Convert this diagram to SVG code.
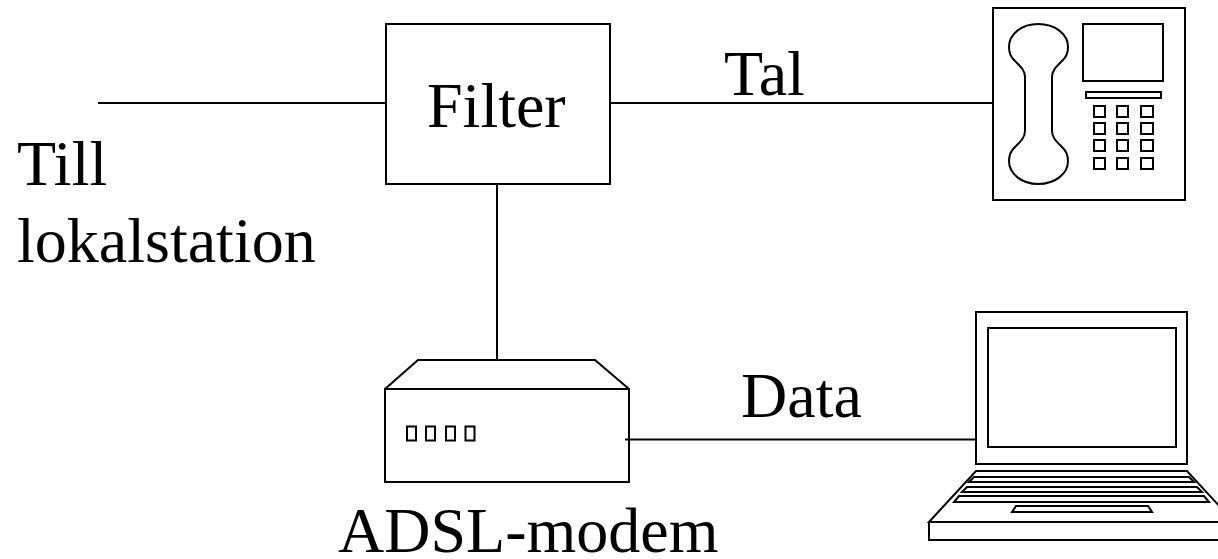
<svg xmlns="http://www.w3.org/2000/svg" width="1218" height="559" viewBox="0 0 1218 559">
<style>
.s{fill:none;stroke:#000;stroke-width:2}
.t{font-family:"Liberation Serif","Times New Roman",serif;font-size:64px;fill:#000}
</style>
<rect width="1218" height="559" fill="#fff"/>
<g id="connectors" class="s">
<path d="M98 103H386M610 103H993M497 184V360M625 439.500H976"/>
</g>
<g id="filter"><rect class="s" x="386" y="24" width="224" height="160"/><text class="t" x="427" y="127">Filter</text></g>
<g id="phone" class="s">
<rect x="993" y="8" width="192" height="192"/>
<path d="M1025 77C1025 70 1020 66 1014 60C1011 57 1009 52 1009 47C1009 34 1022 24 1038 24C1055 24 1068 34 1068 47C1068 52 1066 57 1063 60C1057 66 1052 70 1052 77V131C1052 138 1057 142 1063 148C1066 151 1068 156 1068 161C1068 174 1055 184 1038 184C1022 184 1009 174 1009 161C1009 156 1011 151 1014 148C1020 142 1025 138 1025 131Z"/>
<rect x="1083" y="24" width="80" height="57"/>
<rect x="1086" y="92" width="75" height="6"/>
<path d="M1094 106h11v11h-11zM1117 106h11v11h-11zM1141 106h12v11h-12zM1094 123h11v11h-11zM1117 123h11v11h-11zM1141 123h12v11h-12zM1094 140h11v11h-11zM1117 140h11v11h-11zM1141 140h12v11h-12zM1094 158h11v11h-11zM1117 158h11v11h-11zM1141 158h12v11h-12z"/>
</g>
<g id="modem" class="s">
<path d="M385 389H629V482H385ZM385 389L418 360H595L629 389"/>
<path d="M407 426.500h9v14h-9zM426 426.500h9v14h-9zM446 426.500h9v14h-9zM465.500 426.500h9v14h-9z"/>
</g>
<g id="laptop" class="s">
<rect x="976" y="312" width="211" height="152"/>
<rect x="988" y="328" width="188" height="119"/>
<path d="M929 522L976 471H1187L1234 522ZM929 522V540H1234V522"/>
<path d="M974 477H1189L1194 482H969ZM967 487H1197L1202 492H962ZM959 496H1204L1209 502H954ZM1016 506H1148L1152 512H1012Z"/>
</g>
<g id="labels">
<text class="t" x="724" y="95">Tal</text>
<text class="t" x="741" y="417">Data</text>
<text class="t" x="17" y="185">Till</text>
<text class="t" x="17" y="262">lokalstation</text>
<text class="t" x="338" y="552">ADSL-modem</text>
</g>
</svg>
